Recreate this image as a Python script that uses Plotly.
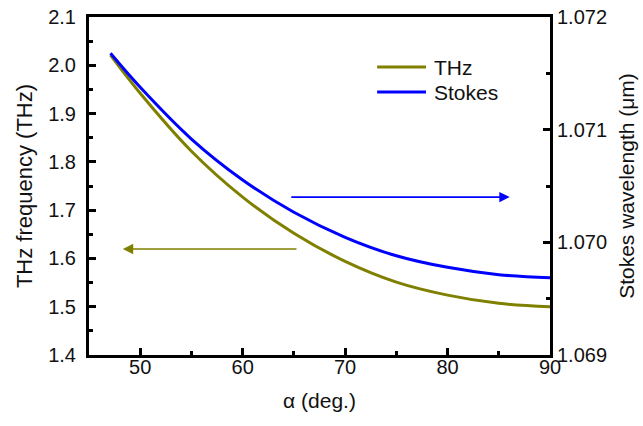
import plotly.graph_objects as go

alpha = [47.1, 50, 55, 60, 65, 70, 75, 80, 85, 90]
thz = [2.021, 1.942, 1.822, 1.727, 1.652, 1.594, 1.551, 1.524, 1.507, 1.500]
stokes = [1.071678, 1.071376, 1.070917, 1.070554, 1.070267, 1.070045,
          1.069881, 1.069778, 1.069713, 1.069686]

x_ticks = [50, 60, 70, 80, 90]
y_ticks = [1.4, 1.5, 1.6, 1.7, 1.8, 1.9, 2.0, 2.1]
y2_ticks = [1.069, 1.070, 1.071, 1.072]
series_names = ["THz", "Stokes"]

OLIVE = "#808000"
BLUE = "#0000FF"
FONT = "Arial, Liberation Sans, sans-serif"

fig = go.Figure()
fig.add_trace(go.Scatter(x=alpha, y=thz, mode="lines", name=series_names[0],
                         line=dict(color=OLIVE, width=3, shape="spline"), yaxis="y"))
fig.add_trace(go.Scatter(x=alpha, y=stokes, mode="lines", name=series_names[1],
                         line=dict(color=BLUE, width=3, shape="spline"), yaxis="y2"))

axis_common = dict(showgrid=False, zeroline=False, showline=True, linecolor="black",
                   linewidth=3, ticks="inside", tickcolor="black", tickwidth=2.5,
                   ticklen=7, tickfont=dict(size=20, color="#111"), automargin=False)
minor_common = dict(ticks="inside", ticklen=4, tickwidth=2.5, tickcolor="black")

fig.update_layout(
    width=643, height=426,
    margin=dict(l=89, r=93, t=17, b=71),
    paper_bgcolor="white", plot_bgcolor="white",
    font=dict(family=FONT, size=20, color="#111"),
    showlegend=False,
    xaxis=dict(range=[45, 90], tickvals=x_ticks, mirror=True, ticklabelstandoff=-8,
               title=dict(text="α (deg.)", font=dict(size=21), standoff=17),
               minor=dict(dtick=5, tick0=45, **minor_common),
               **axis_common),
    yaxis=dict(range=[1.4, 2.1], tickvals=y_ticks, tickformat=".1f", ticklabelstandoff=6,
               title=dict(text="THz frequency (THz)", font=dict(size=22), standoff=10),
               minor=dict(dtick=0.05, tick0=1.4, **minor_common),
               **axis_common),
    yaxis2=dict(range=[1.069, 1.072], tickvals=y2_ticks, tickformat=".3f",
                overlaying="y", side="right",
                title=dict(text="Stokes wavelength (μm)", font=dict(size=21), standoff=14),
                minor=dict(dtick=0.0005, tick0=1.069, **minor_common),
                **axis_common),
)

# arrows pointing to the respective axes
fig.add_annotation(x=86.07, y=1.727, ax=64.6, ay=1.727, xref="x", yref="y", axref="x", ayref="y",
                   showarrow=True, arrowhead=2, arrowsize=1.3, arrowwidth=1.6, arrowcolor=BLUE, text="")
fig.add_annotation(x=48.3, y=1.6195, ax=65.4, ay=1.6195, xref="x", yref="y", axref="x", ayref="y",
                   showarrow=True, arrowhead=2, arrowsize=1.3, arrowwidth=1.6, arrowcolor=OLIVE, text="")

# legend drawn manually (long line samples as in the original)
for name, col, yy in [(series_names[0], OLIVE, 0.852), (series_names[1], BLUE, 0.778)]:
    fig.add_shape(type="line", xref="paper", yref="paper", x0=0.625, x1=0.731, y0=yy, y1=yy,
                  line=dict(color=col, width=3))
    fig.add_annotation(x=0.745, y=yy, xref="paper", yref="paper", text=name, showarrow=False,
                       xanchor="left", yanchor="middle", font=dict(size=21, color="#111"))

fig.write_html("out.html")
